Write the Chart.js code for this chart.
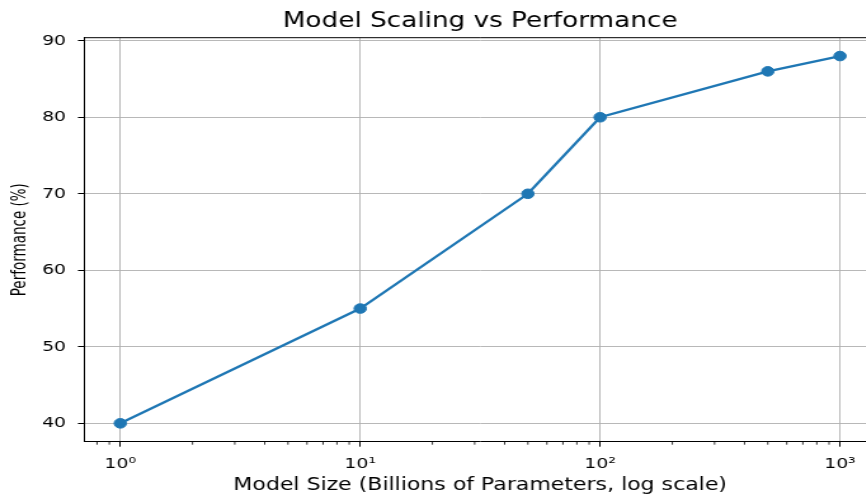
<!DOCTYPE html>
<html>
<head>
<meta charset="utf-8">
<script src="https://cdn.jsdelivr.net/npm/chart.js@4.4.1/dist/chart.umd.min.js"></script>
<style>
  html, body { margin: 0; padding: 0; overflow: hidden; background: #fff; width: 866px; height: 495px; }
  #c { display: block; }
</style>
</head>
<body>
<canvas id="c" width="690" height="495" style="width:876.3px;height:495px;"></canvas>
<script>
// ---- data ----
const modelSizes = [1, 10, 50, 100, 500, 1000];
const performance = [40, 55, 70, 80, 86, 88];
const xTickValues = [1, 10, 100, 1000];
const xTickLabels = ['10\u2070', '10\u00B9', '10\u00B2', '10\u00B3'];
const yTickValues = [40, 50, 60, 70, 80, 90];
const yTickLabels = ['40', '50', '60', '70', '80', '90'];
const chartTitle = 'Model Scaling vs Performance';
const xAxisTitle = 'Model Size (Billions of Parameters, log scale)';
const yAxisTitle = 'Performance (%)';

// axis limits (matplotlib-style 5% margins)
const xMin = Math.pow(10, -0.15), xMax = Math.pow(10, 3.15);
const yMin = 37.6, yMax = 90.4;

// minor log ticks (2..9 x 10^k) inside the x range
const xMinorTicks = [];
for (let k = -1; k <= 3; k++) {
  for (let m = 2; m <= 9; m++) {
    const v = m * Math.pow(10, k);
    if (v > xMin && v < xMax) xMinorTicks.push(v);
  }
}

const FONT = 'DejaVu Sans';

const extrasPlugin = {
  id: 'extras',
  afterDraw(chart) {
    const ctx = chart.ctx;
    const {left, right, top, bottom} = chart.chartArea;
    ctx.save();
    // top spine
    ctx.strokeStyle = '#000';
    ctx.lineWidth = 1;
    ctx.beginPath();
    ctx.moveTo(left, top);
    ctx.lineTo(right, top);
    ctx.stroke();
    // minor ticks on x
    const xs = chart.scales.x;
    ctx.lineWidth = 0.8;
    ctx.beginPath();
    xMinorTicks.forEach(v => {
      const px = xs.getPixelForValue(v);
      ctx.moveTo(px, bottom);
      ctx.lineTo(px, bottom + 3);
    });
    ctx.stroke();
    ctx.restore();
  }
};

const noPad = s => { s.paddingLeft = 0; s.paddingRight = 0; s.paddingTop = 0; s.paddingBottom = 0; };

new Chart(document.getElementById('c'), {
  type: 'line',
  data: {
    datasets: [{
      xAxisID: 'x',
      yAxisID: 'y',
      data: modelSizes.map((x, i) => ({x: x, y: performance[i]})),
      borderColor: '#1f77b4',
      backgroundColor: '#1f77b4',
      borderWidth: 2.3,
      pointRadius: 4.8,
      pointBorderWidth: 1,
      pointBackgroundColor: '#1f77b4',
      pointBorderColor: '#1f77b4',
      tension: 0,
      fill: false
    }]
  },
  options: {
    responsive: false,
    devicePixelRatio: 1,
    animation: false,
    layout: { padding: 0, autoPadding: false },
    plugins: {
      legend: { display: false },
      tooltip: { enabled: false },
      title: { display: false }
    },
    scales: {
      // top axis used only to carry the chart title, centred over the plot area
      titleAxis: {
        type: 'linear',
        position: 'top',
        afterFit: s => { s.height = 37.7; noPad(s); },
        ticks: { display: false },
        grid: { display: false, drawTicks: false },
        border: { display: false },
        title: {
          display: true,
          text: chartTitle,
          color: '#000',
          font: { family: FONT, size: 20.7, weight: 'normal', lineHeight: 1.2 },
          padding: { top: 9.4, bottom: 0 }
        }
      },
      x: {
        type: 'logarithmic',
        position: 'bottom',
        bounds: 'data',
        min: xMin,
        max: xMax,
        afterBuildTicks: s => { s.ticks = xTickValues.map(v => ({value: v, major: true})); },
        afterFit: s => { s.height = 53.3; noPad(s); },
        ticks: {
          autoSkip: false,
          maxRotation: 0,
          color: '#000',
          padding: 8.6,
          font: { family: FONT, size: 14.8, lineHeight: 1.2 },
          callback: (v) => { const i = xTickValues.indexOf(v); return i >= 0 ? xTickLabels[i] : ''; }
        },
        grid: { color: '#b0b0b0', lineWidth: 0.9, drawTicks: true, tickLength: 5, tickColor: '#000', tickWidth: 1 },
        border: { display: true, color: '#000', width: 1 },
        title: {
          display: true,
          text: xAxisTitle,
          color: '#000',
          font: { family: FONT, size: 17.35, lineHeight: 1.15 },
          padding: { top: 0, bottom: 0 }
        }
      },
      y: {
        type: 'linear',
        position: 'left',
        bounds: 'data',
        min: yMin,
        max: yMax,
        afterBuildTicks: s => { s.ticks = yTickValues.map(v => ({value: v})); },
        afterFit: s => { s.width = 66.4; noPad(s); },
        ticks: {
          color: '#000',
          padding: 9.4,
          font: { family: FONT, size: 14.8, lineHeight: 1.2 },
          callback: (v) => { const i = yTickValues.indexOf(v); return i >= 0 ? yTickLabels[i] : ''; }
        },
        grid: { color: '#b0b0b0', lineWidth: 0.9, drawTicks: true, tickLength: 5, tickColor: '#000', tickWidth: 1 },
        border: { display: true, color: '#000', width: 1 },
        title: {
          display: true,
          text: yAxisTitle,
          color: '#000',
          font: { family: 'DejaVu Sans Condensed', size: 15, lineHeight: 1.2 },
          padding: { top: 6.8, bottom: 0 }
        }
      }
    }
  },
  plugins: [extrasPlugin]
});
</script>
</body>
</html>
